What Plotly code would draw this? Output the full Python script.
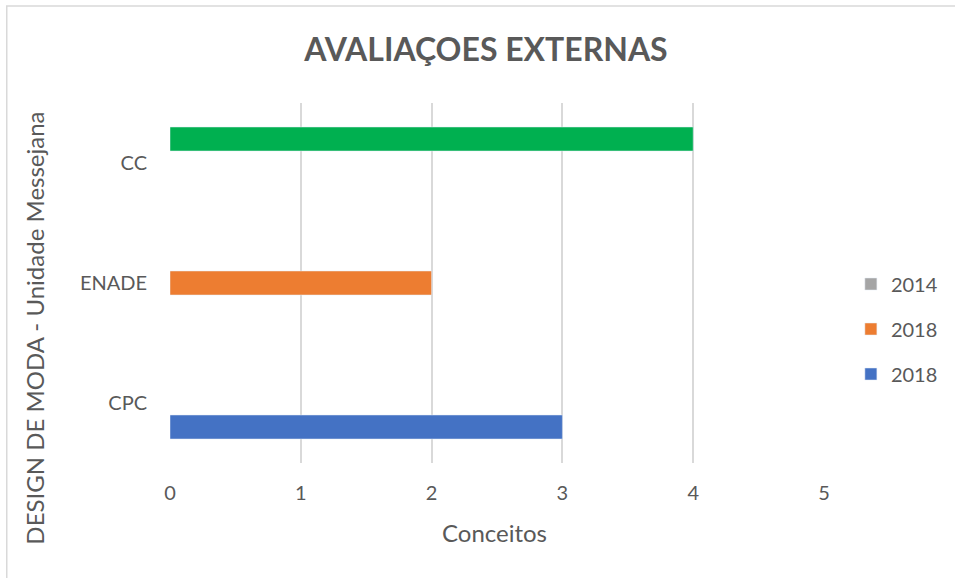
import plotly.graph_objects as go

categories = ["CPC", "ENADE", "CC"]
series_names = ["2018", "2018", "2014"]
blue_2018 = [3, None, None]
orange_2018 = [None, 2, None]
gray_2014 = [None, None, 4]
x_ticks = [0, 1, 2, 3, 4, 5]

TEXT = "#595959"
FONT = "Lato, 'Open Sans', sans-serif"

W, H = 955, 578
L, R, T, B = 170, 128, 103, 115
plot_w = W - L - R
plot_h = H - T - B

def px_x(x):
    return (x - L) / plot_w

def px_y(y):
    return (H - B - y) / plot_h

fig = go.Figure()
fig.add_trace(go.Bar(y=categories, x=blue_2018, orientation="h", name=series_names[0],
                     marker=dict(color="#4472C4"), legendgroup="a", legendrank=3))
fig.add_trace(go.Bar(y=categories, x=orange_2018, orientation="h", name=series_names[1],
                     marker=dict(color="#ED7D31"), legendgroup="b", legendrank=2))
fig.add_trace(go.Bar(y=categories, x=gray_2014, orientation="h", name=series_names[2],
                     marker=dict(color=["#A5A5A5", "#A5A5A5", "#00B050"]), legendgroup="c",
                     legendrank=1))

fig.update_layout(
    width=W, height=H,
    margin=dict(l=L, r=R, t=T, b=B),
    paper_bgcolor="white", plot_bgcolor="white",
    barmode="group", bargap=0.4, bargroupgap=0,
    font=dict(family=FONT, color=TEXT, size=20),
    showlegend=True,
    legend=dict(x=px_x(854), xanchor="left", y=px_y(329), yanchor="middle", yref="paper",
                traceorder="grouped", tracegroupgap=16,
                font=dict(size=20, color=TEXT), bgcolor="rgba(0,0,0,0)"),
    title=dict(text="<b>AVALIAÇOES EXTERNAS</b>", x=486 / W, xanchor="center",
               y=1 - 50 / H, yanchor="middle", yref="container",
               font=dict(size=32, color=TEXT, family=FONT)),
    xaxis=dict(range=[0, 5], tickvals=x_ticks, showgrid=True, gridcolor="#D9D9D9", gridwidth=1.5,
               zeroline=False, showline=False, ticks="outside", ticklen=12,
               tickcolor="rgba(0,0,0,0)", tickfont=dict(size=20, color=TEXT), fixedrange=True),
    yaxis=dict(showgrid=False, zeroline=False, showline=False, ticks="outside", ticklen=18,
               tickcolor="rgba(0,0,0,0)", tickfont=dict(size=20, color=TEXT), fixedrange=True),
    annotations=[
        dict(text="Conceitos", x=px_x(496), xref="paper", y=px_y(532), yref="paper", showarrow=False,
             font=dict(size=24, color=TEXT), yanchor="middle"),
        dict(text="DESIGN DE MODA - Unidade Messejana", textangle=-90,
             x=px_x(33), xref="paper", y=px_y(328), yref="paper",
             showarrow=False, font=dict(size=24, color=TEXT), xanchor="center", yanchor="middle"),
    ],
    shapes=[dict(type="rect", xref="paper", yref="paper",
                 x0=px_x(6), x1=px_x(970), y0=px_y(590), y1=px_y(6),
                 line=dict(color="#D9D9D9", width=1.5), fillcolor="rgba(0,0,0,0)", layer="below")],
)
fig.write_html("out.html", config={"displayModeBar": False},
               post_script="document.body.style.margin='0';document.body.style.overflow='hidden';")
